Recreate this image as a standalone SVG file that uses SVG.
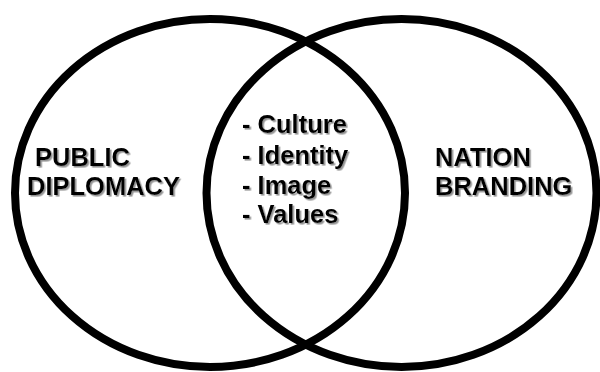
<svg xmlns="http://www.w3.org/2000/svg" width="600" height="372" viewBox="0 0 600 372">
<defs>
<style>
.ring{fill:none;stroke:#000;stroke-width:8}
.t{font-family:"Liberation Sans",Arial,sans-serif;font-weight:bold;font-size:25.5px;fill:#000;filter:url(#sh)}
</style>
<filter id="sh" x="-10%" y="-30%" width="130%" height="170%">
<feDropShadow dx="1.6" dy="1.6" stdDeviation="0.6" flood-color="#888" flood-opacity="0.9"/>
</filter>
</defs>
<rect width="600" height="372" fill="#fff"/>
<g id="connectors"></g>
<g id="public-diplomacy">
<ellipse class="ring" cx="210" cy="193" rx="195" ry="174"/>
<text class="t" x="35" y="166">PUBLIC</text>
<text class="t" x="27" y="195">DIPLOMACY</text>
</g>
<g id="nation-branding">
<ellipse class="ring" cx="401.5" cy="193" rx="195" ry="174"/>
<text class="t" x="435" y="166">NATION</text>
<text class="t" x="435" y="195">BRANDING</text>
</g>
<g id="overlap">
<text class="t" x="242" y="133">- Culture</text>
<text class="t" x="242" y="164">- Identity</text>
<text class="t" x="242" y="194">- Image</text>
<text class="t" x="242" y="223">- Values</text>
</g>
</svg>
